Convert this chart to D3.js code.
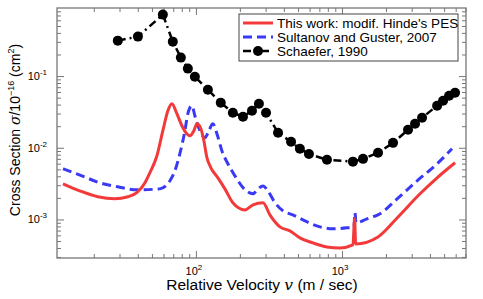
<!DOCTYPE html>
<html>
<head>
<meta charset="utf-8">
<script src="https://cdn.jsdelivr.net/npm/d3@7/dist/d3.min.js"></script>
<style>
  body { margin: 0; background: #fff; }
  svg text { font-family: "Liberation Sans", Arial, sans-serif; }
</style>
</head>
<body>
<div id="chart"></div>
<script>
// Data (v in m/s, sigma in 1e-16 cm^2)
var thisWorkV = [12.3, 16.0, 21.3, 27.9, 34.2, 39.4, 44.8, 48.4, 54.1, 59.4, 64.3, 68.5, 74.1, 80.2, 86.7, 91.0, 96.9, 101.6, 108.2, 113.4, 119, 126.7, 141.5, 158, 179, 217, 246, 288, 321, 376, 440, 515, 632, 789, 968, 1188, 1220, 1240, 1765, 2384, 3420, 4477, 5943];
var thisWorkS = [3.14e-3, 2.51e-3, 2.07e-3, 1.94e-3, 2.07e-3, 2.36e-3, 3.24e-3, 4.48e-3, 7.73e-3, 0.0173, 0.0329, 0.0412, 0.0299, 0.0203, 0.0157, 0.0147, 0.0173, 0.0216, 0.0184, 0.0125, 7.25e-3, 5.26e-3, 3.81e-3, 2.67e-3, 1.71e-3, 1.36e-3, 1.60e-3, 1.71e-3, 1.16e-3, 7.89e-4, 6.93e-4, 5.53e-4, 4.71e-4, 4.14e-4, 4.01e-4, 4.42e-4, 1.02e-3, 4.56e-4, 5.71e-4, 1.05e-3, 2.28e-3, 3.81e-3, 6.18e-3];

var sultanovV = [12.3, 16.6, 22.0, 29.2, 39.4, 56.6, 66.4, 71.8, 77.6, 84.1, 88.1, 93.9, 98.4, 106.5, 115.2, 122.7, 130.7, 139.3, 150.6, 165.6, 184.9, 217, 246, 266, 288, 311, 348, 394, 461, 558, 706, 867, 1082, 1208, 1227, 1247, 1483, 1820, 2384, 3266, 4477, 5663];
var sultanovS = [5.09e-3, 4.06e-3, 3.24e-3, 2.85e-3, 2.59e-3, 2.67e-3, 3.46e-3, 4.77e-3, 8.24e-3, 0.0173, 0.0299, 0.0386, 0.0280, 0.0173, 0.0138, 0.0173, 0.0216, 0.0157, 9.08e-3, 5.98e-3, 4.06e-3, 2.59e-3, 2.28e-3, 2.67e-3, 2.94e-3, 2.51e-3, 1.71e-3, 1.32e-3, 1.16e-3, 9.55e-4, 7.89e-4, 7.40e-4, 7.64e-4, 7.89e-4, 1.24e-3, 8.97e-4, 1.02e-3, 1.20e-3, 1.94e-3, 3.46e-3, 5.98e-3, 9.68e-3];

var schaeferV = [29.2, 40.1, 59.4, 69.5, 78.9, 88.1, 98.4, 120.8, 148, 179, 210, 242, 270, 302, 365, 448, 515, 594, 789, 1188, 1393, 1765, 2235, 2831, 3162, 3532, 4477, 4920, 5408, 5943];
var schaeferS = [0.312, 0.355, 0.72, 0.302, 0.181, 0.127, 0.098, 0.0646, 0.0425, 0.0308, 0.0271, 0.0329, 0.0412, 0.0308, 0.0162, 0.0121, 0.0097, 0.0082, 0.0068, 0.0064, 0.0070, 0.0085, 0.0117, 0.0178, 0.0216, 0.0262, 0.0386, 0.0453, 0.0532, 0.0586];

var legendLabels = ["This work: modif. Hinde's PES", "Sultanov and Guster, 2007", "Schaefer, 1990"];
var xMajor = [100, 1000];
var xMajorExp = ["2", "3"];
var yMajor = [1e-3, 1e-2, 1e-1];
var yMajorExp = ["-3", "-2", "-1"];

var W = 483, H = 299;
var pL = 57, pR = 466, pT = 8, pB = 258;

var x = d3.scaleLog().domain([11.2, 7060]).range([pL, pR]);
var y = d3.scaleLog().domain([2.9e-4, 0.89]).range([pB, pT]);

function minorTicks(lo, hi) {
  var out = [];
  for (var e = -5; e <= 5; e++) {
    for (var m = 1; m <= 9; m++) {
      var v = m * Math.pow(10, e);
      if (v > lo && v < hi) out.push(v);
    }
  }
  return out;
}
var xTicks = minorTicks(11.2, 7060);
var yTicks = minorTicks(2.9e-4, 0.89);
function isMajor(v) { return Math.abs(Math.log10(v) - Math.round(Math.log10(v))) < 1e-6; }

var svg = d3.select("#chart").append("svg")
  .attr("width", W).attr("height", H);

svg.append("defs").append("clipPath").attr("id", "clip")
  .append("rect").attr("x", pL).attr("y", pT)
  .attr("width", pR - pL).attr("height", pB - pT);

// frame + inward ticks
var frameColor = "#777";
function drawAxis(axis, tx, ty, dim) {
  var g = svg.append("g").attr("transform", "translate(" + tx + "," + ty + ")").call(axis);
  g.select(".domain").remove();
  g.selectAll(".tick text").remove();
  g.selectAll(".tick line").attr("stroke", frameColor).attr("stroke-width", 1)
    .each(function(d) {
      var len = isMajor(d) ? 7 : 4;
      var el = d3.select(this);
      el.attr(dim, +el.attr(dim) < 0 ? -len : len);
    });
}
drawAxis(d3.axisBottom(x).tickValues(xTicks).tickSize(-5), 0, pB, "y2");
drawAxis(d3.axisTop(x).tickValues(xTicks).tickSize(-5), 0, pT, "y2");
drawAxis(d3.axisLeft(y).tickValues(yTicks).tickSize(-5), pL, 0, "x2");
drawAxis(d3.axisRight(y).tickValues(yTicks).tickSize(-5), pR, 0, "x2");

svg.append("rect").attr("x", pL).attr("y", pT)
  .attr("width", pR - pL).attr("height", pB - pT)
  .attr("fill", "none").attr("stroke", frameColor).attr("stroke-width", 1.3);

// tick labels with superscripts
xMajor.forEach(function(v, i) {
  var t = svg.append("text").attr("x", x(v) - 2).attr("y", pB + 17)
    .attr("text-anchor", "middle").attr("font-size", 11);
  t.append("tspan").text("10");
  t.append("tspan").attr("dy", -5).attr("font-size", 8).text(xMajorExp[i]);
});
yMajor.forEach(function(v, i) {
  var t = svg.append("text").attr("x", pL - 10).attr("y", y(v) + 4)
    .attr("text-anchor", "end").attr("font-size", 11);
  t.append("tspan").text("10");
  t.append("tspan").attr("dy", -5).attr("font-size", 8).text(yMajorExp[i]);
});

// axis titles
var xt = svg.append("text").attr("x", 262).attr("y", 290)
  .attr("text-anchor", "middle").attr("font-size", 15.5);
xt.append("tspan").text("Relative Velocity  ");
xt.append("tspan").attr("font-family", "DejaVu Serif, serif").attr("font-style", "italic").text("v");
xt.append("tspan").text(" (m / sec)");

var yt = svg.append("text").attr("transform", "translate(20,130) rotate(-90)")
  .attr("text-anchor", "middle").attr("font-size", 14);
yt.append("tspan").text("Cross Section  ");
yt.append("tspan").attr("font-family", "DejaVu Serif, serif").attr("font-style", "italic").text("σ");
yt.append("tspan").text("/10");
yt.append("tspan").attr("dy", -6).attr("font-size", 9).text("−16");
yt.append("tspan").attr("dy", 6).text(" (cm");
yt.append("tspan").attr("dy", -6).attr("font-size", 9).text("2");
yt.append("tspan").attr("dy", 6).text(")");

// series
function pts(vs, ss) { return vs.map(function(v, i) { return [v, ss[i]]; }); }
var smooth = d3.line().x(function(d) { return x(d[0]); }).y(function(d) { return y(d[1]); })
  .curve(d3.curveMonotoneX);
var straight = d3.line().x(function(d) { return x(d[0]); }).y(function(d) { return y(d[1]); });

var plot = svg.append("g").attr("clip-path", "url(#clip)");

plot.append("path").datum(pts(sultanovV, sultanovS))
  .attr("d", smooth).attr("fill", "none").attr("stroke", "#3a3af5")
  .attr("stroke-width", 3).attr("stroke-dasharray", "9,5");

plot.append("path").datum(pts(thisWorkV, thisWorkS))
  .attr("d", smooth).attr("fill", "none").attr("stroke", "#f23a3a")
  .attr("stroke-width", 3).attr("stroke-linejoin", "round");

var schaefer = pts(schaeferV, schaeferS);
plot.append("path").datum(schaefer)
  .attr("d", straight).attr("fill", "none").attr("stroke", "#000")
  .attr("stroke-width", 2.5).attr("stroke-dasharray", "8,4,2,4");
plot.selectAll(".dot").data(schaefer).enter().append("circle")
  .attr("class", "dot")
  .attr("cx", function(d) { return x(d[0]); })
  .attr("cy", function(d) { return y(d[1]); })
  .attr("r", 5).attr("fill", "#000");

// legend
var lg = svg.append("g").attr("transform", "translate(239,14)");
lg.append("rect").attr("width", 219).attr("height", 47)
  .attr("fill", "#fff").attr("stroke", "#444").attr("stroke-width", 1);
var styles = [
  { color: "#f23a3a", dash: null, w: 3 },
  { color: "#3a3af5", dash: "9,5", w: 3 },
  { color: "#000", dash: "8,4,2,4", w: 2.5 }
];
legendLabels.forEach(function(lbl, i) {
  var yy = 9 + i * 14;
  lg.append("line").attr("x1", 4).attr("x2", 34).attr("y1", yy).attr("y2", yy)
    .attr("stroke", styles[i].color).attr("stroke-width", styles[i].w)
    .attr("stroke-dasharray", styles[i].dash);
  if (i === 2) {
    lg.append("circle").attr("cx", 19).attr("cy", yy).attr("r", 5).attr("fill", "#000");
  }
  lg.append("text").attr("x", 38).attr("y", yy + 4.5).attr("font-size", 13.5).text(lbl);
});
</script>
</body>
</html>
